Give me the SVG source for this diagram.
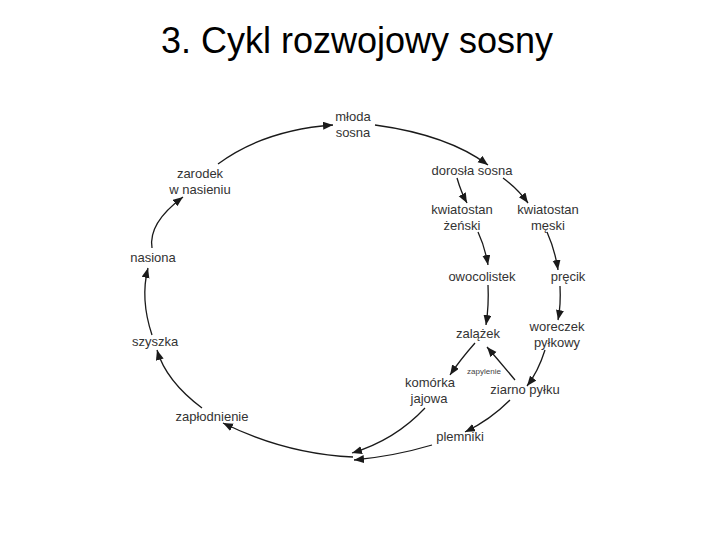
<svg xmlns="http://www.w3.org/2000/svg" width="720" height="540" viewBox="0 0 720 540">
<defs>
<marker id="ah" markerUnits="userSpaceOnUse" markerWidth="11" markerHeight="9" refX="10" refY="4" orient="auto">
<path d="M0,0 L10,4 L0,8 z" fill="#1a1a1a"/>
</marker>
<style>
.t{font-family:"Liberation Sans",Arial,sans-serif;font-size:13px;fill:#333;text-anchor:middle}
.s{font-family:"Liberation Sans",Arial,sans-serif;font-size:8px;fill:#444;text-anchor:middle}
.c{fill:none;stroke:#1a1a1a;stroke-width:1.3;marker-end:url(#ah)}
.n{fill:none;stroke:#1a1a1a;stroke-width:1.3}
</style>
</defs>
<rect width="720" height="540" fill="#fff"/>
<text x="357" y="53" font-family="'Liberation Sans',Arial,sans-serif" font-size="36" fill="#000" text-anchor="middle">3. Cykl rozwojowy sosny</text>
<g id="connectors">
<path class="c" d="M152,248 Q148,223 183,197"/>
<path class="c" d="M218,164 Q264,130 333,125"/>
<path class="c" d="M375,125 Q448,135 488,165"/>
<path class="c" d="M457,178 Q461,192 467,203"/>
<path class="c" d="M503,178 Q518,189 528,203"/>
<path class="c" d="M478,232 Q485,247 488,265"/>
<path class="c" d="M547,232 Q555,250 558,270"/>
<path class="c" d="M488,285 Q489,305 486,325"/>
<path class="c" d="M560,286 Q561,305 558,320"/>
<path class="c" d="M545,350 Q538,372 527,386"/>
<path class="c" d="M515,380 Q500,362 487,347"/>
<path class="c" d="M475,343 Q460,360 450,375"/>
<path class="c" d="M425,408 Q395,440 352,453"/>
<path class="c" d="M510,400 Q490,420 465,432"/>
<path class="c" d="M432,445 Q395,456 354,460"/>
<path class="c" d="M353,457 Q286,454 223,423"/>
<path class="c" d="M202,408 Q166,381 157,350"/>
<path class="c" d="M152,335 Q140,299 148,268"/>
</g>
<g id="mloda-sosna"><text class="t" x="353" y="121">młoda</text><text class="t" x="353" y="137">sosna</text></g>
<g id="dorosla-sosna"><text class="t" x="472" y="175">dorosła sosna</text></g>
<g id="kwiatostan-zenski"><text class="t" x="462" y="214">kwiatostan</text><text class="t" x="462" y="230">żeński</text></g>
<g id="kwiatostan-meski"><text class="t" x="548" y="214">kwiatostan</text><text class="t" x="548" y="230">męski</text></g>
<g id="owocolistek"><text class="t" x="482" y="281">owocolistek</text></g>
<g id="precik"><text class="t" x="568" y="281">pręcik</text></g>
<g id="zalazek"><text class="t" x="478" y="338">zalążek</text></g>
<g id="woreczek-pylkowy"><text class="t" x="557" y="331">woreczek</text><text class="t" x="557" y="347">pyłkowy</text></g>
<g id="zapylenie"><text class="s" x="484" y="374">zapylenie</text></g>
<g id="komorka-jajowa"><text class="t" x="430" y="387">komórka</text><text class="t" x="429" y="403">jajowa</text></g>
<g id="ziarno-pylku"><text class="t" x="525" y="394">ziarno pyłku</text></g>
<g id="plemniki"><text class="t" x="460" y="441">plemniki</text></g>
<g id="zaplodnienie"><text class="t" x="212" y="421">zapłodnienie</text></g>
<g id="szyszka"><text class="t" x="155" y="346">szyszka</text></g>
<g id="nasiona"><text class="t" x="153" y="262">nasiona</text></g>
<g id="zarodek"><text class="t" x="200" y="178">zarodek</text><text class="t" x="200" y="194">w nasieniu</text></g>
</svg>
